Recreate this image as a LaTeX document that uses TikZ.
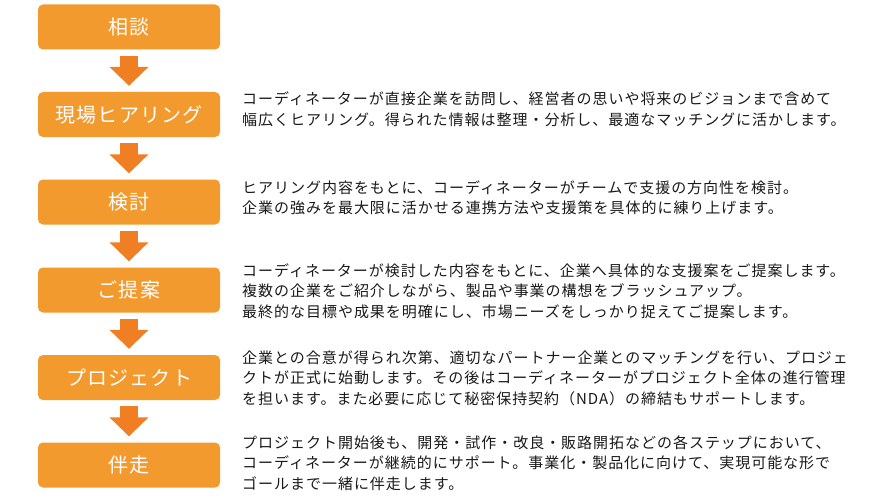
\documentclass[tikz,border=0pt]{standalone}
\usepackage{fontspec}
\setmainfont{Noto Sans CJK JP}
\newfontfamily\stepfont[LetterSpace=6]{Noto Sans CJK JP}
\newfontfamily\notefont[LetterSpace=6.5]{Noto Sans CJK JP}
\usetikzlibrary{arrows.meta}
\definecolor{boxorange}{RGB}{243,154,46}
\definecolor{arroworange}{RGB}{240,126,34}
\newcommand{\stepdown}[2] % from node, to node
{
	% thick block arrow between two steps
	\draw[arroworange, line width=18pt, -{Triangle[width=38pt,length=19pt]}, shorten <=6pt, shorten >=6pt] (#1.south) -- (#2.north);
}

\begin{document}
\begin{tikzpicture}[x=1pt, y=-1pt,
	stepbox/.style={fill=boxorange, rounded corners=5pt, minimum width=182pt, minimum height=45pt, inner sep=0pt, text=white, font=\stepfont\fontsize{20}{20}\selectfont},
	note/.style={anchor=west, align=left, inner sep=0pt, text=black!90, font=\notefont\fontsize{15}{20.5}\selectfont}]
	% 877px x 500px
	\useasboundingbox (0, 0) rectangle (877, 500);
	
	% steps
	\node[stepbox] (soudan) at (129, 27) {相談};
	\node[stepbox] (hearing) at (129, 114.5) {現場ヒアリング};
	\node[stepbox] (kentou) at (129, 202) {検討};
	\node[stepbox] (teian) at (129, 290) {ご提案};
	\node[stepbox] (project) at (129, 377.5) {プロジェクト};
	\node[stepbox] (bansou) at (129, 465) {伴走};
	
	\stepdown{soudan}{hearing};
	\stepdown{hearing}{kentou};
	\stepdown{kentou}{teian};
	\stepdown{teian}{project};
	\stepdown{project}{bansou};
	
	% descriptions
	\node[note] (hearingnote) at (242, 109) {コーディネーターが直接企業を訪問し、経営者の思いや将来のビジョンまで含めて\\幅広くヒアリング。得られた情報は整理・分析し、最適なマッチングに活かします。};
	\node[note] (kentounote) at (242, 198) {ヒアリング内容をもとに、コーディネーターがチームで支援の方向性を検討。\\企業の強みを最大限に活かせる連携方法や支援策を具体的に練り上げます。};
	\node[note] (teiannote) at (242, 291) {コーディネーターが検討した内容をもとに、企業へ具体的な支援案をご提案します。\\複数の企業をご紹介しながら、製品や事業の構想をブラッシュアップ。\\最終的な目標や成果を明確にし、市場ニーズをしっかり捉えてご提案します。};
	\node[note] (projectnote) at (242, 378) {企業との合意が得られ次第、適切なパートナー企業とのマッチングを行い、プロジェ\\クトが正式に始動します。その後はコーディネーターがプロジェクト全体の進行管理\\を担います。また必要に応じて秘密保持契約（NDA）の締結もサポートします。};
	\node[note] (bansounote) at (242, 463) {プロジェクト開始後も、開発・試作・改良・販路開拓などの各ステップにおいて、\\コーディネーターが継続的にサポート。事業化・製品化に向けて、実現可能な形で\\ゴールまで一緒に伴走します。};
	
\end{tikzpicture}
\end{document}
